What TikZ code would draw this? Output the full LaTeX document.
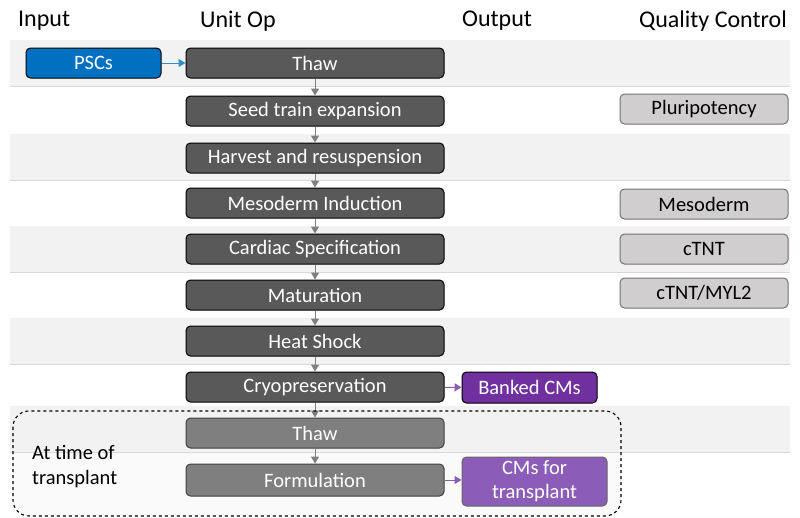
\documentclass[tikz,border=0pt]{standalone}
\usepackage{fontspec}
\setmainfont{Carlito}
\usetikzlibrary{arrows.meta}
\definecolor{bandgray}{HTML}{F2F2F2}
\definecolor{bandline}{HTML}{D9D9D9}
\definecolor{opdark}{HTML}{595959}
\definecolor{oplight}{HTML}{7F7F7F}
\definecolor{pscblue}{HTML}{0070C0}
\definecolor{qcfill}{HTML}{D0CECE}
\definecolor{bankpurple}{HTML}{7030A0}
\definecolor{txpurple}{HTML}{8C5DB8}
\definecolor{arrgray}{HTML}{7F7F7F}
\tikzset{
  opbox/.style={draw=black, line width=1pt, fill=opdark, rounded corners=4.5pt, minimum width=258pt, minimum height=30pt, text=white, font=\fontsize{20.5}{22}\selectfont, inner sep=0pt},
  oplt/.style={opbox, fill=oplight, draw=black!75},
  qcbox/.style={draw=black!55, line width=1pt, fill=qcfill, rounded corners=4.5pt, minimum width=168pt, minimum height=30pt, text=black, font=\fontsize{20.5}{22}\selectfont, inner sep=0pt},
  inbox/.style={draw=black, line width=1pt, fill=pscblue, rounded corners=4.5pt, minimum width=135pt, minimum height=30pt, text=white, font=\fontsize{20.5}{22}\selectfont, inner sep=0pt},
  outbox/.style={draw=black, line width=1pt, fill=bankpurple, rounded corners=4.5pt, minimum width=135pt, minimum height=31pt, text=white, font=\fontsize{20.5}{22}\selectfont, inner sep=0pt},
  header/.style={font=\fontsize{24}{26}\selectfont, text=black, inner sep=0pt},
  flow/.style={draw=arrgray, line width=1pt, -{Triangle[length=7pt,width=8pt]}},
}
\begin{document}
\begin{tikzpicture}[x=1pt,y=-1pt]
\useasboundingbox (0,0) rectangle (800,517);
\fill[white] (0,0) rectangle (800,517);
% dashed region fill
\fill[fill=black!2, rounded corners=16pt] (13,411) rectangle (621,516);
% bands
\foreach \a/\b in {40/86,134/180,226/272,318/364,406/452}{
  \fill[bandgray] (10,\a) rectangle (790,\b);
  \draw[bandline, line width=0.6pt] (10,\b) -- (790,\b);
}
% headers
\node[header, anchor=west] (hin) at (18,21) {Input};
\node[header, anchor=west] (hop) at (200,21) {Unit Op};
\node[header, anchor=west] (hout) at (462,21) {Output};
\node[header, anchor=east] (hqc) at (787,21) {Quality Control};
% unit ops
\node[opbox] (thaw) at (315,63) {Thaw};
\node[opbox] (seed) at (315,111) {Seed train expansion};
\node[opbox] (harv) at (315,158) {Harvest and resuspension};
\node[opbox] (meso) at (315,203) {Mesoderm Induction};
\node[opbox] (card) at (315,249) {Cardiac Specification};
\node[opbox] (matu) at (315,295) {Maturation};
\node[opbox] (heat) at (315,341) {Heat Shock};
\node[opbox] (cryo) at (315,387) {Cryopreservation};
\node[oplt] (thaw2) at (315,433) {Thaw};
\node[oplt, minimum height=32pt] (form) at (315,480) {Formulation};
% input
\node[inbox] (psc) at (93.5,63) {PSCs};
% QC
\node[qcbox] (qc1) at (704,109) {Pluripotency};
\node[qcbox] (qc2) at (704,204) {Mesoderm};
\node[qcbox] (qc3) at (704,249) {cTNT};
\node[qcbox] (qc4) at (704,293) {cTNT/MYL2};
% outputs
\node[outbox] (bank) at (529.5,387.5) {Banked CMs};
\node[outbox, fill=txpurple, draw=black!60, minimum width=145pt, minimum height=49pt, align=center, font=\fontsize{20.5}{24}\selectfont] (cmt) at (534.5,481.5) {CMs for\\transplant};
% arrows
\draw[flow] (thaw) -- (seed);
\draw[flow] (seed) -- (harv);
\draw[flow] (harv) -- (meso);
\draw[flow] (meso) -- (card);
\draw[flow] (card) -- (matu);
\draw[flow] (matu) -- (heat);
\draw[flow] (heat) -- (cryo);
\draw[flow] (cryo) -- (thaw2);
\draw[flow] (thaw2) -- (form);
\draw[draw=pscblue!80, line width=1pt, -{Triangle[length=7pt,width=8pt]}] (psc) -- (thaw);
\draw[draw=bankpurple!80, line width=1pt, -{Triangle[length=7pt,width=8pt]}] (cryo) -- (bank);
\draw[draw=txpurple, line width=1pt, -{Triangle[length=7pt,width=8pt]}] (form.east) -- (cmt.west |- form.east);
% dashed region
\draw[black, dashed, line width=1.1pt, rounded corners=16pt] (13,411) rectangle (621,516);
\node[anchor=west, align=left, font=\fontsize{20.5}{25}\selectfont, inner sep=0pt] (att) at (32,467) {At time of\\transplant};
\end{tikzpicture}
\end{document}
